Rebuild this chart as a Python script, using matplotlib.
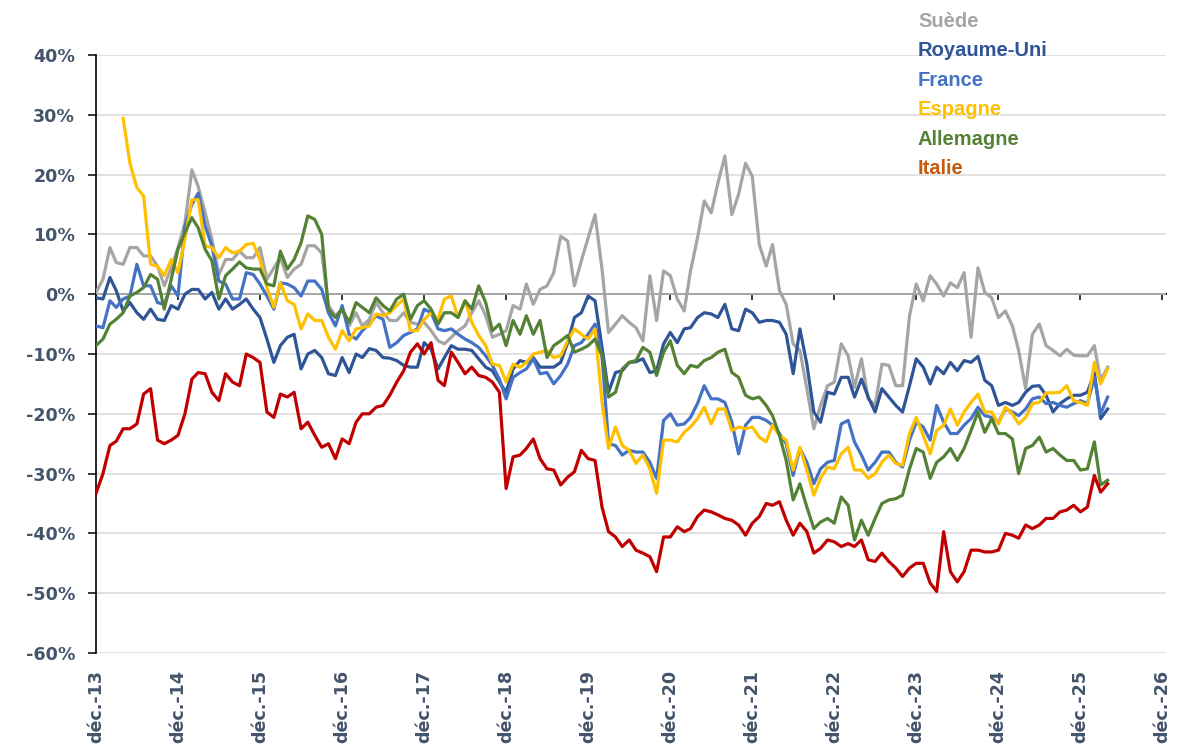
import numpy as np
import pandas as pd
import matplotlib
matplotlib.use("Agg")
import matplotlib.pyplot as plt
import matplotlib.dates as mdates

# ── Data: monthly values (%), déc. 2013 -> avr. 2026 ─────────────────────────
dates = pd.date_range("2013-12-01", periods=149, freq="MS")

suede = [
    0.3, 2.5, 7.8, 5.3, 5.0, 7.8, 7.8, 6.4, 6.4, 4.7, 1.4, 4.4,
    7.8, 11.9, 20.8, 18.0, 13.6, 9.2, 3.3, 5.8, 5.8, 7.2, 6.1, 6.1,
    7.8, 2.5, 4.4, 6.1, 2.8, 4.2, 5.0, 8.1, 8.1, 6.9, -1.9, -3.6,
    -2.5, -5.3, -3.1, -5.3, -4.2, -1.4, -3.1, -4.4, -4.4, -3.1, -4.7, -5.0,
    -4.7, -6.1, -7.8, -8.3, -7.2, -6.1, -5.3, -3.1, -1.1, -3.6, -7.2, -6.7,
    -6.1, -1.9, -2.5, 1.7, -1.7, 0.8, 1.4, 3.6, 9.7, 8.9, 1.4, 5.6,
    9.4, 13.3, 4.2, -6.4, -5.0, -3.6, -4.7, -5.6, -7.8, 3.1, -4.4, 3.9,
    3.1, -0.8, -2.8, 3.9, 9.4, 15.6, 13.6, 18.6, 23.1, 13.3, 16.7, 21.9,
    19.7, 8.3, 4.7, 8.3, 0.6, -1.7, -8.3, -9.4, -15.8, -22.5, -18.6, -15.3,
    -14.7, -8.3, -10.3, -15.6, -10.8, -17.5, -18.6, -11.7, -11.9, -15.3, -15.3, -3.6,
    1.7, -1.1, 3.1, 1.7, -0.3, 1.9, 1.1, 3.6, -7.2, 4.4, 0.3, -0.6,
    -3.9, -2.8, -5.3, -9.4, -15.8, -6.7, -5.0, -8.6, -9.4, -10.3, -9.2, -10.2,
    -10.3, -10.3, -8.6, -14.4, -12.2,
]

royaume_uni = [
    -0.6, -0.8, 2.8, 0.6, -2.8, -1.4, -3.1, -4.2, -2.5, -4.2, -4.4, -1.9,
    -2.5, 0.0, 0.8, 0.8, -0.8, 0.3, -2.5, -0.8, -2.5, -1.7, -0.8, -2.5,
    -3.9, -7.5, -11.4, -8.6, -7.2, -6.7, -12.5, -10.0, -9.4, -10.6, -13.3, -13.6,
    -10.6, -13.1, -10.0, -10.6, -9.1, -9.4, -10.6, -10.7, -11.1, -11.9, -12.2, -12.2,
    -8.1, -9.2, -12.5, -10.6, -8.6, -9.2, -9.2, -9.4, -10.8, -12.2, -12.8, -14.7,
    -16.4, -12.5, -11.1, -11.4, -10.6, -12.2, -12.2, -12.2, -11.4, -8.1, -3.9, -3.1,
    -0.3, -1.1, -8.9, -16.4, -13.1, -12.8, -11.4, -11.3, -10.8, -13.1, -12.8, -8.3,
    -6.4, -8.1, -5.8, -5.6, -3.9, -3.1, -3.3, -3.9, -1.7, -5.8, -6.1, -2.5,
    -3.1, -4.7, -4.4, -4.4, -4.7, -6.7, -13.3, -5.8, -11.7, -19.7, -21.4, -16.4,
    -16.7, -13.9, -13.9, -17.2, -14.2, -17.2, -19.7, -15.8, -17.2, -18.6, -19.7, -15.3,
    -10.8, -12.2, -15.0, -12.2, -13.3, -11.4, -12.8, -11.1, -11.4, -10.4, -14.4, -15.3,
    -18.6, -18.1, -18.6, -18.1, -16.4, -15.4, -15.3, -16.9, -19.7, -18.3, -17.5, -16.9,
    -16.9, -16.4, -13.1, -20.8, -19.2,
]

france = [
    -5.3, -5.6, -1.1, -2.2, -0.8, -0.3, 5.0, 1.4, 1.4, -1.4, -1.7, 1.4,
    -0.3, 11.4, 15.0, 16.9, 11.4, 8.1, 2.2, 1.7, -0.8, -0.8, 3.6, 3.3,
    1.7, -0.3, -2.5, 1.9, 1.7, 1.1, -0.3, 2.2, 2.2, 0.8, -3.1, -5.3,
    -1.9, -6.7, -7.5, -6.1, -5.0, -3.6, -4.2, -8.9, -8.1, -6.9, -6.4, -5.8,
    -2.5, -3.1, -5.8, -6.1, -5.8, -6.7, -7.5, -8.1, -8.9, -10.3, -11.9, -14.2,
    -17.5, -13.9, -13.1, -12.5, -10.8, -13.3, -13.1, -15.0, -13.6, -11.7, -8.6, -8.1,
    -6.7, -5.0, -10.3, -25.0, -25.3, -26.9, -26.1, -26.4, -26.4, -28.1, -30.8, -21.1,
    -20.0, -21.9, -21.7, -20.6, -18.3, -15.3, -17.5, -17.5, -18.1, -21.4, -26.7, -21.9,
    -20.6, -20.6, -21.1, -21.9, -23.3, -25.0, -30.3, -25.8, -28.1, -31.7, -29.2, -28.1,
    -27.8, -21.7, -21.1, -24.7, -26.9, -29.4, -28.1, -26.4, -26.4, -28.1, -28.9, -24.4,
    -21.4, -22.2, -24.4, -18.6, -21.4, -23.3, -23.3, -21.9, -20.8, -18.9, -20.3, -20.6,
    -21.4, -19.2, -19.7, -20.3, -19.2, -17.5, -17.2, -18.3, -18.1, -18.6, -18.9, -18.3,
    -17.8, -18.3, -13.9, -20.0, -17.2,
]

espagne = [
    np.nan, np.nan, np.nan, np.nan, 29.4, 21.9, 17.8, 16.4, 5.0, 4.7, 3.1, 5.8,
    3.6, 9.2, 15.8, 15.8, 8.1, 7.8, 6.1, 7.8, 6.9, 7.2, 8.3, 8.5,
    5.8, 1.1, -2.2, 1.9, -1.1, -1.7, -5.8, -3.3, -4.4, -4.4, -7.2, -9.2,
    -6.1, -7.8, -5.8, -5.6, -5.3, -3.3, -3.6, -3.1, -1.9, -0.8, -6.1, -6.1,
    -4.2, -3.1, -4.2, -0.8, -0.3, -3.9, -1.1, -4.7, -6.9, -8.6, -11.7, -11.9,
    -14.7, -11.7, -12.2, -11.4, -10.0, -9.7, -9.4, -10.6, -10.3, -7.8, -5.8, -6.7,
    -7.5, -5.8, -18.1, -25.8, -22.2, -25.3, -26.1, -28.3, -26.9, -29.2, -33.3, -24.4,
    -24.4, -24.7, -23.1, -22.2, -20.8, -18.9, -21.7, -19.2, -19.2, -22.8, -22.2, -22.5,
    -22.2, -23.9, -24.7, -21.9, -23.6, -24.4, -29.4, -25.6, -29.4, -33.6, -30.8, -28.9,
    -29.2, -26.7, -25.6, -29.4, -29.4, -30.8, -30.0, -28.1, -26.9, -28.3, -28.6, -23.3,
    -20.6, -23.6, -26.7, -22.8, -21.9, -19.2, -21.9, -19.7, -18.1, -16.7, -19.7, -19.7,
    -21.7, -18.9, -20.0, -21.7, -20.6, -18.3, -18.1, -16.5, -16.5, -16.4, -15.3, -17.8,
    -18.1, -18.6, -11.4, -15.0, -12.5,
]

allemagne = [
    -8.6, -7.5, -5.0, -4.2, -3.1, -0.3, 0.3, 1.1, 3.3, 2.5, -2.5, 2.5,
    7.5, 10.3, 12.8, 11.1, 7.5, 5.6, -0.8, 3.1, 4.2, 5.4, 4.4, 4.2,
    4.2, 1.7, 1.4, 7.2, 4.2, 5.8, 8.6, 13.1, 12.5, 10.0, -2.5, -3.9,
    -2.5, -4.7, -1.4, -2.2, -3.1, -0.6, -1.9, -2.8, -0.8, 0.0, -4.2, -1.9,
    -1.1, -2.5, -5.0, -3.1, -3.1, -3.9, -1.1, -2.5, 1.4, -1.4, -6.1, -5.0,
    -8.6, -4.4, -6.7, -3.6, -6.7, -4.4, -10.6, -8.6, -7.8, -6.9, -9.7, -9.2,
    -8.6, -7.5, -10.3, -17.2, -16.4, -12.5, -11.4, -11.1, -8.9, -9.7, -13.6, -9.7,
    -7.8, -11.9, -13.3, -11.9, -12.2, -11.1, -10.6, -9.7, -9.2, -13.1, -13.9, -16.9,
    -17.5, -17.2, -18.6, -20.3, -23.6, -27.8, -34.4, -31.7, -35.6, -39.2, -38.1, -37.5,
    -38.3, -33.9, -35.3, -41.1, -37.8, -40.3, -37.5, -35.0, -34.4, -34.2, -33.6, -29.2,
    -25.8, -26.4, -30.8, -28.1, -27.2, -25.8, -27.8, -25.8, -22.8, -19.7, -23.1, -20.8,
    -23.3, -23.3, -24.2, -30.0, -25.8, -25.3, -23.9, -26.4, -25.8, -26.9, -27.8, -27.8,
    -29.4, -29.2, -24.7, -31.9, -31.1,
]

italie = [
    -33.3, -30.0, -25.3, -24.6, -22.5, -22.5, -21.7, -16.7, -15.8, -24.4, -25.0, -24.4,
    -23.6, -20.0, -14.2, -13.1, -13.3, -16.4, -17.8, -13.3, -14.7, -15.3, -10.0, -10.6,
    -11.4, -19.7, -20.6, -16.7, -17.2, -16.4, -22.5, -21.4, -23.6, -25.6, -25.0, -27.5,
    -24.2, -25.0, -21.4, -20.0, -20.0, -18.9, -18.6, -16.9, -14.7, -12.8, -9.7, -8.3,
    -10.0, -8.1, -14.4, -15.3, -9.7, -11.4, -13.3, -12.2, -13.6, -13.9, -14.7, -16.4,
    -32.5, -27.2, -26.9, -25.8, -24.2, -27.5, -29.2, -29.4, -31.9, -30.6, -29.7, -26.1,
    -27.5, -27.8, -35.6, -39.7, -40.6, -42.2, -41.1, -42.8, -43.3, -43.9, -46.4, -40.6,
    -40.6, -38.9, -39.7, -39.2, -37.2, -36.1, -36.4, -36.9, -37.5, -37.8, -38.6, -40.3,
    -38.3, -37.2, -35.0, -35.3, -34.7, -37.8, -40.3, -38.3, -39.7, -43.3, -42.5, -41.1,
    -41.4, -42.2, -41.7, -42.2, -41.1, -44.4, -44.7, -43.3, -44.7, -45.8, -47.2, -45.8,
    -45.0, -45.0, -48.3, -49.7, -39.7, -46.4, -48.1, -46.4, -42.8, -42.8, -43.1, -43.1,
    -42.8, -40.0, -40.3, -40.8, -38.6, -39.2, -38.6, -37.5, -37.5, -36.4, -36.1, -35.3,
    -36.4, -35.6, -30.3, -33.1, -31.7,
]

series_names = ["Suède", "Royaume-Uni", "France", "Espagne", "Allemagne", "Italie"]
series_values = [suede, royaume_uni, france, espagne, allemagne, italie]
line_colors = ["#A5A5A5", "#2F5597", "#4472C4", "#FFC000", "#548235", "#C00000"]
legend_colors = ["#A5A5A5", "#2F5597", "#4472C4", "#FFC000", "#548235", "#C55A11"]

tick_dates = pd.date_range("2013-12-01", "2026-12-01", freq="12MS")
tick_labels = ["déc.-13", "déc.-14", "déc.-15", "déc.-16", "déc.-17", "déc.-18", "déc.-19",
               "déc.-20", "déc.-21", "déc.-22", "déc.-23", "déc.-24", "déc.-25", "déc.-26"]
y_ticks = [-60, -50, -40, -30, -20, -10, 0, 10, 20, 30, 40]

# ── Figure ────────────────────────────────────────────────────────────────────
W, H = 1186, 746
fig = plt.figure(figsize=(W / 100, H / 100), dpi=100)
ax = fig.add_axes([96 / W, 1 - 653 / H, (1166 - 96) / W, (653 - 55) / H])

x = mdates.date2num(dates)
for name, vals, col in zip(series_names, series_values, line_colors):
    ax.plot(x, vals, color=col, lw=2.3, solid_joinstyle="round", zorder=3, label=name)

ax.set_xlim(mdates.date2num(pd.Timestamp("2013-12-01")),
            mdates.date2num(pd.Timestamp("2026-12-17")))
ax.set_ylim(-60, 40)

tick_col = "#44546A"
ax.set_yticks(y_ticks)
ax.set_yticklabels([f"{v}%" for v in y_ticks], fontsize=12.6, fontweight="bold",
                   color=tick_col, family="DejaVu Sans")
ax.tick_params(axis="y", direction="out", length=6, width=1.1, color="black", pad=9)

ax.set_xticks(mdates.date2num(tick_dates))
ax.set_xticklabels(tick_labels, rotation=90, fontsize=12.6, fontweight="bold",
                   color=tick_col, family="DejaVu Sans")
ax.tick_params(axis="x", length=0, pad=12)

ax.yaxis.grid(True, color="#D9D9D9", lw=1.1)
ax.set_axisbelow(True)
for s in ["top", "right", "bottom"]:
    ax.spines[s].set_visible(False)
ax.spines["left"].set_color("black")
ax.spines["left"].set_linewidth(1.2)

# zero line acting as the category axis, with small year ticks
sec = ax.secondary_xaxis(0.6)
sec.set_alignment("bottom")
sec.set_xticks(mdates.date2num(tick_dates))
sec.tick_params(axis="x", direction="out", length=4, width=1.1, color="black",
                labelbottom=False, labeltop=False)
sec.spines["bottom"].set_color("black")
sec.spines["bottom"].set_linewidth(1.4)

# text-only legend, top right
for i, (name, col) in enumerate(zip(series_names, legend_colors)):
    fig.text(918 / W, 1 - (26.7 + i * 29.5) / H, name, color=col, fontsize=14.5,
             fontweight="bold", family="Liberation Sans", va="baseline", ha="left")

fig.savefig("out.png", dpi=100)
